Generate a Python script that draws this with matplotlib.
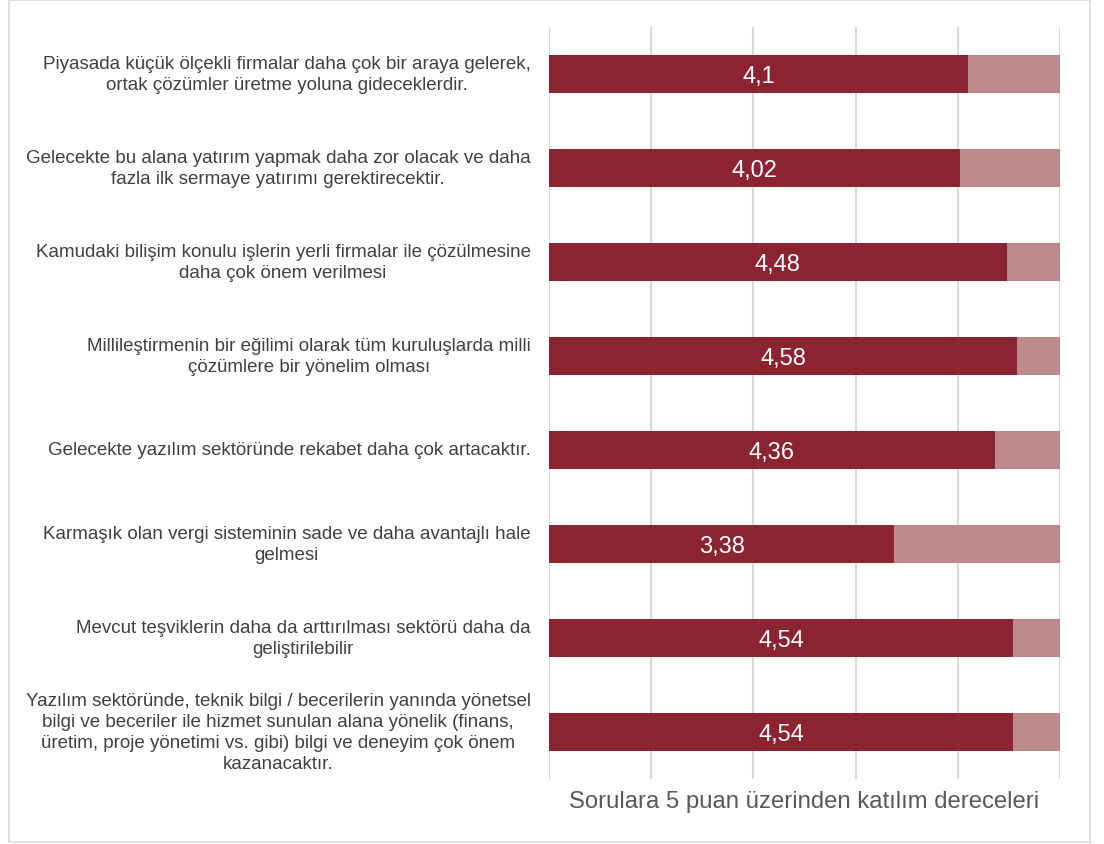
import matplotlib.pyplot as plt
import matplotlib.patches as mpatches

plt.rcParams['font.family'] = ['Liberation Sans', 'DejaVu Sans']

categories = [
    "Piyasada küçük ölçekli firmalar daha çok bir araya gelerek,\nortak çözümler üretme yoluna gideceklerdir.",
    "Gelecekte bu alana yatırım yapmak daha zor olacak ve daha\nfazla ilk sermaye yatırımı gerektirecektir.",
    "Kamudaki bilişim konulu işlerin yerli firmalar ile çözülmesine\ndaha çok önem verilmesi",
    "Millileştirmenin bir eğilimi olarak tüm kuruluşlarda milli\nçözümlere bir yönelim olması",
    "Gelecekte yazılım sektöründe rekabet daha çok artacaktır.",
    "Karmaşık olan vergi sisteminin sade ve daha avantajlı hale\ngelmesi",
    "Mevcut teşviklerin daha da arttırılması sektörü daha da\ngeliştirilebilir",
    "Yazılım sektöründe, teknik bilgi / becerilerin yanında yönetsel\nbilgi ve beceriler ile hizmet sunulan alana yönelik (finans,\nüretim, proje yönetimi vs. gibi) bilgi ve deneyim çok önem\nkazanacaktır.",
]
scores = [4.10, 4.02, 4.48, 4.58, 4.36, 3.38, 4.54, 4.54]
value_labels = ["4,1", "4,02", "4,48", "4,58", "4,36", "3,38", "4,54", "4,54"]
max_score = 5
x_title = "Sorulara 5 puan üzerinden katılım dereceleri"

dark = "#8B2331"
light = "#BC8A8A"

fig = plt.figure(figsize=(11.04, 8.45), dpi=100)
W, H = 1104, 845
ax = fig.add_axes([549 / W, 1 - 780 / H, (1060 - 549) / W, (780 - 28) / H])

pos = list(range(len(categories)))
remainder = [max_score - s for s in scores]
ax.barh(pos, scores, height=0.4, color=dark, zorder=3)
ax.barh(pos, remainder, left=scores, height=0.4, color=light, zorder=3)

for p, s, lab in zip(pos, scores, value_labels):
    ax.text(s / 2, p, lab, ha='center', va='center_baseline', color='white',
            fontsize=17, zorder=4)

for p, c in zip(pos, categories):
    ax.text(-0.18, p, c, ha='right', va='center', multialignment='center',
            color='#404040', fontsize=13.5, linespacing=1.32,
            transform=ax.transData)

ax.set_xlim(0, max_score)
ax.set_ylim(len(categories) - 0.5, -0.5)
ax.set_xticks(range(0, max_score + 1))
ax.grid(axis='x', color='#D9D9D9', linewidth=1.5, zorder=0)
ax.tick_params(length=0, labelbottom=False, labelleft=False)
ax.set_yticks([])
for sp in ax.spines.values():
    sp.set_visible(False)

fig.text((549 + 1060) / 2 / W, 1 - 802 / H, x_title, ha='center', va='center',
         fontsize=17.2, color='#595959')

border = mpatches.Rectangle((9 / W, 1 - 843 / H), (1090 - 9) / W, (843 - 1) / H,
                            transform=fig.transFigure, fill=False,
                            edgecolor='#D9D9D9', linewidth=1.2)
fig.patches.append(border)

fig.savefig("out.png", dpi=100, facecolor='white')
